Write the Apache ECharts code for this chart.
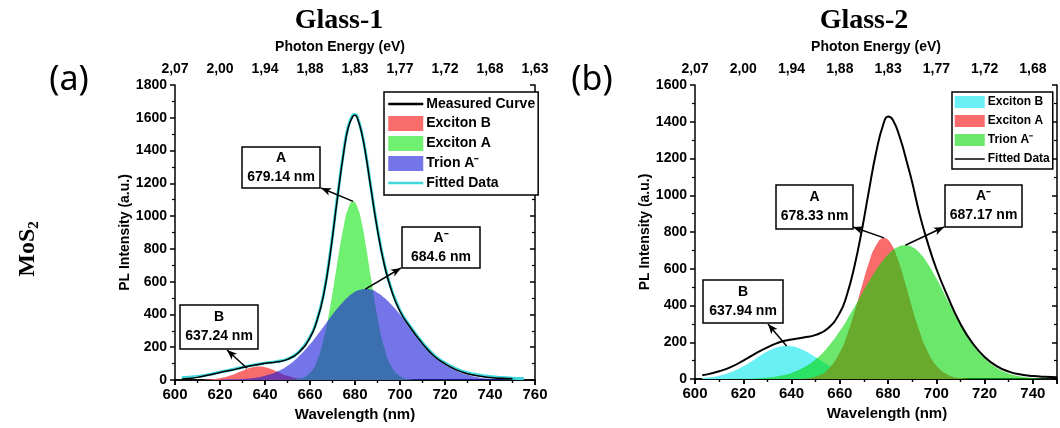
<!DOCTYPE html>
<html>
<head>
<meta charset="utf-8">
<script src="https://cdn.jsdelivr.net/npm/echarts@6/dist/echarts.min.js"></script>
<style>
  html, body { margin: 0; padding: 0; background: #fff; }
  #chart { width: 1060px; height: 428px; }
</style>
</head>
<body>
<div id="chart"></div>
<script>
// Top-axis photon energy labels (eV) for the wavelength ticks 600, 620, ... 760 nm
const energyTickLabels = ['2,07', '2,00', '1,94', '1,88', '1,83', '1,77', '1,72', '1,68', '1,63'];

// ---------- Glass-1 ----------
const g1MeasuredNm = [603, 606, 610, 615, 620, 625, 630, 635, 640, 645, 650, 655, 660, 663, 666, 669, 672, 675, 677, 679, 680, 681, 683, 685, 687, 690, 693, 696, 700, 705, 710, 715, 720, 725, 730, 735, 740, 745, 750];
const g1MeasuredPL = [5, 9, 16, 30, 46, 60, 76, 90, 102, 110, 126, 168, 258, 358, 515, 770, 1090, 1390, 1540, 1608, 1615, 1600, 1505, 1355, 1175, 915, 705, 555, 418, 312, 222, 148, 98, 62, 38, 24, 15, 10, 7];

const g1FittedNm = [603, 606, 610, 615, 620, 625, 630, 635, 640, 645, 650, 655, 660, 663, 666, 669, 672, 675, 677, 679, 680, 681, 683, 685, 687, 690, 693, 696, 700, 705, 710, 715, 720, 725, 730, 735, 740, 745, 750, 755];
const g1FittedPL = [14, 17, 22, 33, 48, 62, 78, 92, 103, 112, 128, 170, 262, 362, 522, 778, 1098, 1398, 1548, 1615, 1620, 1605, 1510, 1362, 1182, 922, 712, 562, 425, 318, 228, 154, 104, 68, 44, 30, 21, 15, 11, 9];

const g1ExcBNm = [612, 615, 620, 625, 630, 635, 637.24, 640, 645, 650, 655, 660, 664];
const g1ExcBPL = [0, 3, 11, 29, 57, 79, 82, 78, 54, 26, 9, 2, 0];

const g1ExcANm = [650, 655, 660, 663, 666, 669, 672, 675, 677, 679.14, 681, 683, 685, 687, 690, 693, 696, 700, 705, 710];
const g1ExcAPL = [0, 7, 45, 112, 245, 448, 703, 940, 1048, 1090, 1057, 960, 805, 632, 385, 198, 88, 23, 3, 0];

const g1TrionNm = [620, 625, 630, 635, 640, 645, 650, 655, 660, 663, 666, 669, 672, 675, 677, 679, 681, 684.6, 687, 690, 693, 696, 700, 705, 710, 715, 720, 725, 730, 735, 740, 745, 750];
const g1TrionPL = [2, 4, 6, 12, 26, 49, 87, 144, 218, 270, 325, 381, 434, 481, 508, 529, 544, 555, 552, 533, 502, 462, 400, 305, 218, 146, 94, 57, 32, 16, 8, 4, 2];

// ---------- Glass-2 ----------
const g2FittedNm = [603, 606, 610, 615, 620, 625, 630, 635, 640, 645, 650, 655, 660, 663, 666, 669, 672, 675, 678, 680, 682, 685, 688, 690, 693, 696, 700, 705, 710, 715, 720, 725, 730, 735, 740, 745, 750];
const g2FittedPL = [20, 28, 42, 66, 100, 138, 172, 200, 215, 226, 240, 275, 360, 460, 610, 800, 1020, 1230, 1385, 1428, 1410, 1310, 1170, 1070, 900, 760, 600, 440, 300, 195, 120, 70, 40, 24, 16, 12, 10];

const g2ExcBNm = [603, 606, 610, 615, 620, 625, 630, 635, 637.94, 640, 645, 650, 655, 660, 665, 670, 675, 680];
const g2ExcBPL = [5, 9, 18, 38, 69, 109, 149, 175, 180, 178, 156, 118, 77, 43, 21, 9, 3, 1];

const g2ExcANm = [645, 650, 655, 660, 663, 666, 669, 672, 675, 678.33, 681, 684, 687, 690, 693, 696, 700, 705, 710, 715];
const g2ExcAPL = [3, 14, 51, 144, 238, 360, 498, 630, 727, 768, 741, 653, 526, 387, 261, 160, 73, 22, 5, 1];

const g2TrionNm = [615, 620, 625, 630, 635, 640, 645, 650, 655, 660, 663, 666, 669, 672, 675, 678, 681, 684, 687.17, 690, 693, 696, 700, 705, 710, 715, 720, 725, 730, 735, 740, 745, 750];
const g2TrionPL = [1, 1, 3, 8, 17, 33, 62, 107, 173, 261, 323, 390, 460, 529, 592, 647, 690, 718, 728, 718, 687, 637, 548, 421, 296, 191, 113, 61, 30, 14, 6, 2, 1];

// ---------- helpers ----------
const SANS = '"Liberation Sans", Arial, sans-serif';
const SERIF = '"Liberation Serif", "Times New Roman", serif';
const pts = (xs, ys) => xs.map((x, i) => [x, ys[i]]);
const peakOf = (xs, ys) => { const i = ys.indexOf(Math.max(...ys)); return [xs[i], ys[i]]; };

function xAxisPair(gi, xMax, bottomNamePad, topNamePad) {
  const common = {
    gridIndex: gi, type: 'value', min: 600, max: xMax, interval: 20,
    axisLine: { lineStyle: { color: '#000', width: 1.5 } },
    splitLine: { show: false },
    minorTick: { show: true, splitNumber: 2, length: 3, lineStyle: { color: '#000', width: 1.2 } }
  };
  return [
    Object.assign({}, common, {
      position: 'bottom',
      axisTick: { inside: false, length: 5, lineStyle: { color: '#000', width: 1.5 } },
      axisLabel: { color: '#000', fontFamily: SANS, fontWeight: 'bold', fontSize: 15, margin: 7,
        showMinLabel: true, showMaxLabel: true, formatter: v => (v % 20 === 0 ? String(v) : '') },
      name: 'Wavelength (nm)', nameLocation: 'middle', nameGap: 25,
      nameTextStyle: { color: '#000', fontFamily: SANS, fontWeight: 'bold', fontSize: 15, padding: bottomNamePad }
    }),
    Object.assign({}, common, {
      position: 'top',
      axisTick: { inside: true, length: 5, lineStyle: { color: '#000', width: 1.5 } },
      axisLabel: { color: '#000', fontFamily: SANS, fontWeight: 'bold', fontSize: 14, margin: 9,
        showMinLabel: true, showMaxLabel: true,
        formatter: v => { const k = (v - 600) / 20; return Number.isInteger(k) ? (energyTickLabels[k] || '') : ''; } },
      name: 'Photon Energy (eV)', nameLocation: 'middle', nameGap: 31,
      nameTextStyle: { color: '#000', fontFamily: SANS, fontWeight: 'bold', fontSize: 14, padding: topNamePad }
    })
  ];
}

function yAxisPair(gi, yMax, nameGap) {
  const common = {
    gridIndex: gi, type: 'value', min: 0, max: yMax, interval: 200,
    axisLine: { show: true, lineStyle: { color: '#000', width: 1.5 } },
    splitLine: { show: false },
    minorTick: { show: true, splitNumber: 2, length: 3, lineStyle: { color: '#000', width: 1.2 } }
  };
  return [
    Object.assign({}, common, {
      position: 'left',
      axisTick: { show: true, inside: false, length: 5, lineStyle: { color: '#000', width: 1.5 } },
      axisLabel: { color: '#000', fontFamily: SANS, fontWeight: 'bold', fontSize: 14, margin: 8,
        showMinLabel: true, showMaxLabel: true, formatter: v => String(v) },
      name: 'PL Intensity (a.u.)', nameLocation: 'middle', nameGap: nameGap, nameRotate: 90,
      nameTextStyle: { color: '#000', fontFamily: SANS, fontWeight: 'bold', fontSize: 14 }
    }),
    Object.assign({}, common, {
      position: 'right',
      axisTick: { show: true, inside: true, length: 5, lineStyle: { color: '#000', width: 1.5 } },
      axisLabel: { show: false }
    })
  ];
}

function arrow(tail, head) {
  return {
    silent: true, animation: false,
    symbol: ['none', 'arrow'], symbolSize: [6, 10],
    label: { show: false },
    emphasis: { disabled: true },
    lineStyle: { color: '#000', width: 1.5, type: 'solid' },
    data: [[{ coord: tail }, { x: head[0], y: head[1] }]]
  };
}

function area(name, axis, xs, ys, fill, extra) {
  return Object.assign({
    name, type: 'line', xAxisIndex: axis.x, yAxisIndex: axis.y,
    data: pts(xs, ys), smooth: 0.5,
    symbol: 'none', showSymbol: false, silent: true,
    color: fill, lineStyle: { width: 0 },
    areaStyle: { color: fill, opacity: 1 }, z: 2
  }, extra || {});
}

function curve(name, axis, xs, ys, color, width, z) {
  return {
    name, type: 'line', xAxisIndex: axis.x, yAxisIndex: axis.y,
    data: pts(xs, ys), smooth: 0.5,
    symbol: 'none', showSymbol: false, silent: true,
    color, lineStyle: { color, width }, z
  };
}

function peakBox(rect, label, nm) {
  return {
    type: 'group', z: 20,
    children: [
      { type: 'rect', shape: { x: rect[0], y: rect[1], width: rect[2], height: rect[3] },
        style: { fill: '#fff', stroke: '#000', lineWidth: 1.5 } },
      { type: 'text', x: rect[0] + rect[2] / 2, y: rect[1] + rect[3] / 2,
        style: { text: label + '\n' + nm + ' nm', fill: '#000', font: 'bold 14px ' + SANS,
          align: 'center', verticalAlign: 'middle', lineHeight: 19 } }
    ]
  };
}

// peak positions of the fitted components
const g1PeakB = peakOf(g1ExcBNm, g1ExcBPL);
const g1PeakA = peakOf(g1ExcANm, g1ExcAPL);
const g1PeakT = peakOf(g1TrionNm, g1TrionPL);
const g2PeakB = peakOf(g2ExcBNm, g2ExcBPL);
const g2PeakA = peakOf(g2ExcANm, g2ExcAPL);
const g2PeakT = peakOf(g2TrionNm, g2TrionPL);

const P1 = { x: 0, y: 0 };
const P2 = { x: 2, y: 2 };
const TRION = 'Trion A\u207B';

const legendBase = {
  orient: 'vertical', selectedMode: false,
  borderColor: '#000', borderWidth: 1.5, backgroundColor: '#fff', borderRadius: 0,
  itemStyle: { borderWidth: 0 },
  formatter: name => name.split('|')[1]
};
// line entries in the legend show only the stroke
const lineKey = (name, color, width) => ({ name, lineStyle: { width, color, type: 'solid' }, itemStyle: { opacity: 0 } });

const option = {
  animation: false,
  backgroundColor: '#fff',
  grid: [
    { left: 175, right: 525, top: 85, bottom: 48 },
    { left: 695, right: 0, top: 85, bottom: 49 }
  ],
  xAxis: [
    ...xAxisPair(0, 760, [0, 0, 0, 0], [0, 30, 0, 0]),
    ...xAxisPair(1, 750, [0, 0, 0, 22], [0, 0, 0, 0])
  ],
  yAxis: [
    ...yAxisPair(0, 1800, 41),
    ...yAxisPair(1, 1600, 38)
  ],
  legend: [
    Object.assign({}, legendBase, {
      left: 384, top: 92, itemWidth: 35, itemHeight: 15, itemGap: 5, padding: [5, 3, 5, 3],
      textStyle: { color: '#000', fontFamily: SANS, fontWeight: 'bold', fontSize: 14, padding: [0, 0, 0, -2] },
      data: [
        lineKey('g1|Measured Curve', '#000', 2.5),
        { name: 'g1|Exciton B', icon: 'rect' },
        { name: 'g1|Exciton A', icon: 'rect' },
        { name: 'g1|' + TRION, icon: 'rect' },
        lineKey('g1|Fitted Data', '#3fd6dc', 2.5)
      ]
    }),
    Object.assign({}, legendBase, {
      left: 952, top: 92, itemWidth: 30, itemHeight: 12, itemGap: 7, padding: [4, 3, 4, 2],
      textStyle: { color: '#000', fontFamily: SANS, fontWeight: 'bold', fontSize: 12, padding: [0, 0, 0, -2] },
      data: [
        { name: 'g2|Exciton B', icon: 'rect' },
        { name: 'g2|Exciton A', icon: 'rect' },
        { name: 'g2|' + TRION, icon: 'rect' },
        lineKey('g2|Fitted Data', '#000', 1.5)
      ]
    })
  ],
  series: [
    // Glass-1 fitted components
    area('g1|Exciton B', P1, g1ExcBNm, g1ExcBPL, 'rgb(248,108,108)',
      { markLine: arrow([632, 72], [227, 350]) }),
    area('g1|Exciton A', P1, g1ExcANm, g1ExcAPL, 'rgb(112,240,112)',
      { markLine: arrow(g1PeakA, [321, 188]) }),
    area('g1|' + TRION, P1, g1TrionNm, g1TrionPL, 'rgba(23,25,217,0.6)',
      { markLine: arrow(g1PeakT, [401, 268]) }),
    curve('g1|Fitted Data', P1, g1FittedNm, g1FittedPL, '#3fd6dc', 3, 3),
    curve('g1|Measured Curve', P1, g1MeasuredNm, g1MeasuredPL, '#000', 1.5, 4),

    // Glass-2 fitted components
    area('g2|Exciton B', P2, g2ExcBNm, g2ExcBPL, 'rgb(104,240,245)',
      { markLine: arrow(g2PeakB, [768, 324]) }),
    area('g2|Exciton A', P2, g2ExcANm, g2ExcAPL, 'rgb(250,108,108)',
      { markLine: arrow(g2PeakA, [853, 227]) }),
    area('g2|' + TRION, P2, g2TrionNm, g2TrionPL, 'rgba(0,215,0,0.58)',
      { markLine: arrow(g2PeakT, [944, 227]) }),
    curve('g2|Fitted Data', P2, g2FittedNm, g2FittedPL, '#000', 2, 4)
  ],
  graphic: [
    { type: 'text', x: 339, y: 21, z: 20,
      style: { text: 'Glass-1', font: 'bold 28px ' + SERIF, fill: '#000', align: 'center', verticalAlign: 'middle' } },
    { type: 'text', x: 864, y: 21, z: 20,
      style: { text: 'Glass-2', font: 'bold 28px ' + SERIF, fill: '#000', align: 'center', verticalAlign: 'middle' } },
    { type: 'text', x: 69, y: 80, z: 20,
      style: { text: '(a)', font: '34px "Noto Sans", "Open Sans", sans-serif', fill: '#000', align: 'center', verticalAlign: 'middle' } },
    { type: 'text', x: 592, y: 80, z: 20,
      style: { text: '(b)', font: '34px "Noto Sans", "Open Sans", sans-serif', fill: '#000', align: 'center', verticalAlign: 'middle' } },
    { type: 'text', x: 28, y: 249, z: 20, rotation: Math.PI / 2,
      style: { text: '{m|MoS}{s|2}', align: 'center', verticalAlign: 'middle',
        rich: {
          m: { font: 'bold 24px ' + SERIF, fill: '#000' },
          s: { font: 'bold 15px ' + SERIF, fill: '#000', padding: [12, 0, 0, 0] }
        } } },
    peakBox([180, 305, 78, 44], 'B', g1PeakB[0]),
    peakBox([242, 147, 78, 41], 'A', g1PeakA[0]),
    peakBox([402, 227, 78, 41], 'A\u207B', g1PeakT[0]),
    peakBox([703, 280, 80, 43], 'B', g2PeakB[0]),
    peakBox([776, 185, 77, 44], 'A', g2PeakA[0]),
    peakBox([945, 185, 77, 42], 'A\u207B', g2PeakT[0])
  ]
};

const chart = echarts.init(document.getElementById('chart'), null, { renderer: 'canvas' });
chart.setOption(option);
</script>
</body>
</html>
